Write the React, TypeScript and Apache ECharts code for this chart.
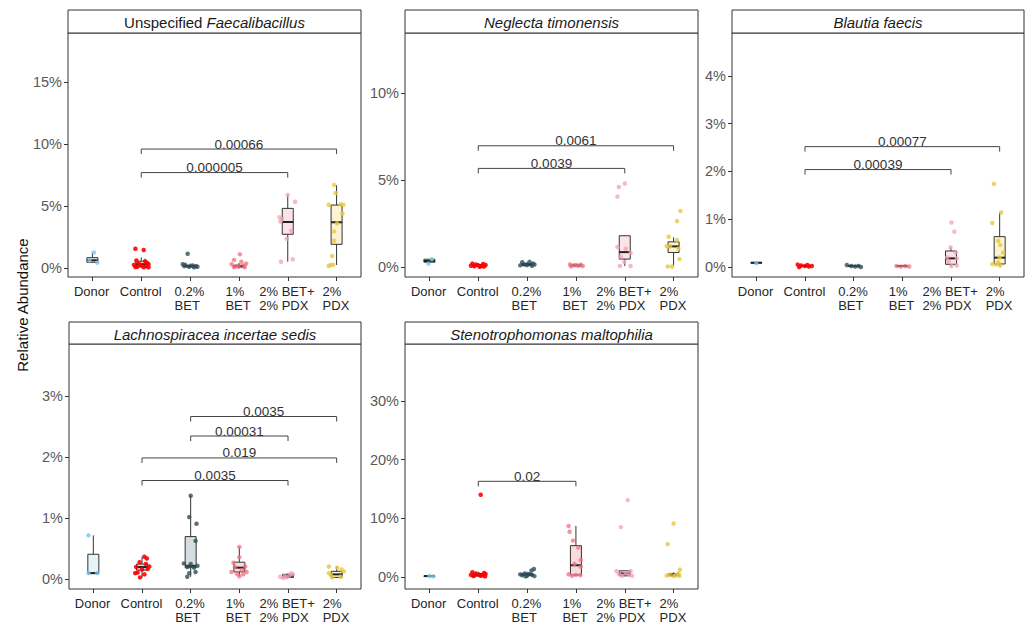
import React, { useEffect, useRef } from 'react';
import * as echarts from 'echarts';

const FONT = '"Liberation Sans", Arial, Helvetica, sans-serif';

const categories = ['Donor', 'Control', '0.2%\nBET', '1%\nBET', '2% BET+\n2% PDX', '2%\nPDX'];
const groupColors = ['#7ec8e8', '#ff0000', '#2f4f5a', '#f07080', '#f4a0b4', '#e8c840'];
const groupOpacity = [0.8, 0.9, 0.8, 0.75, 0.75, 0.8];
const boxFills = ['#e6f3fa', '#f8d4d4', '#d4dde0', '#fadadd', '#fbe3e8', '#fbf3d2'];
const yTitle = 'Relative Abundance';

// ---------- Panel 1: Unspecified Faecalibacillus ----------
const faecTitle = ['Unspecified ', 'Faecalibacillus'];
const faecTicks = [0, 5, 10, 15];
const faecRange = [-0.73, 18.97];
const faecBoxes = [
  [0.43, 0.46, 0.62, 0.83, 1.25],
  [0.02, 0.1, 0.3, 0.55, 0.85],
  [0.02, 0.08, 0.15, 0.22, 0.35],
  [0.02, 0.07, 0.15, 0.22, 0.4],
  [0.51, 2.72, 3.71, 4.81, 5.9],
  [0.24, 1.91, 3.69, 5.08, 6.69],
];
const faecPoints = [
  [[0.03, 1.25], [0.1, 0.43], [-0.06, 0.6]],
  [[-0.12, 1.55], [0.05, 1.45], [-0.1, 0.6], [0.08, 0.55], [0.12, 0.4], [-0.05, 0.35], [0.15, 0.3], [-0.15, 0.25], [0.0, 0.2], [0.1, 0.15], [-0.08, 0.1], [0.05, 0.05], [-0.12, 0.08], [0.15, 0.05]],
  [[-0.05, 1.15], [-0.15, 0.3], [-0.1, 0.25], [0.05, 0.2], [0.12, 0.15], [-0.02, 0.1], [0.15, 0.1], [0.08, 0.05], [-0.12, 0.15]],
  [[0.02, 1.1], [-0.1, 0.65], [0.05, 0.5], [0.15, 0.35], [-0.15, 0.3], [0.1, 0.2], [-0.05, 0.15], [0.0, 0.1], [0.12, 0.05], [-0.1, 0.05]],
  [[0, 5.9], [0.15, 5.35], [-0.17, 4.1], [-0.12, 3.95], [-0.15, 3.75], [0.07, 3.0], [-0.02, 2.35], [-0.14, 0.5], [0.1, 0.7]],
  [[-0.05, 6.7], [-0.02, 6.05], [-0.16, 5.1], [0.08, 5.15], [0.14, 5.1], [0.12, 4.4], [0.01, 3.6], [-0.05, 2.95], [-0.05, 2.2], [-0.09, 0.97], [-0.12, 0.24], [-0.07, 0.25], [-0.16, 0.16]],
];
const faecBrackets = [
  [1, 4, 7.7, '0.000005'],
  [1, 5, 9.6, '0.00066'],
];

// ---------- Panel 2: Neglecta timonensis ----------
const neglTitle = ['', 'Neglecta timonensis'];
const neglTicks = [0, 5, 10];
const neglRange = [-0.57, 13.45];
const neglBoxes = [
  [0.25, 0.28, 0.35, 0.45, 0.47],
  [0.0, 0.05, 0.1, 0.15, 0.22],
  [0.05, 0.1, 0.15, 0.2, 0.3],
  [0.02, 0.06, 0.1, 0.14, 0.18],
  [0.06, 0.46, 0.86, 1.8, 1.8],
  [0.06, 0.84, 1.19, 1.45, 1.71],
];
const neglPoints = [
  [[-0.02, 0.2], [0.05, 0.45]],
  [[-0.12, 0.2], [0.1, 0.18], [-0.05, 0.15], [0.15, 0.12], [0.0, 0.1], [-0.15, 0.08], [0.08, 0.06], [-0.08, 0.05], [0.12, 0.03], [0.03, 0.02]],
  [[-0.1, 0.28], [0.05, 0.3], [0.12, 0.2], [-0.05, 0.15], [0.0, 0.12], [-0.14, 0.1], [0.1, 0.08], [0.15, 0.15]],
  [[-0.12, 0.15], [0.1, 0.14], [-0.05, 0.1], [0.05, 0.08], [0.14, 0.06], [-0.1, 0.05], [0.0, 0.12]],
  [[-0.12, 4.6], [0, 4.8], [-0.15, 4.05], [-0.15, 1.15], [0.02, 1.05], [0.12, 0.82], [-0.08, 0.6], [-0.01, 0.3], [-0.1, 0.06], [0.12, 0.06]],
  [[0.14, 3.22], [0.07, 2.64], [-0.1, 1.74], [0.07, 1.55], [-0.07, 1.2], [0.1, 1.07], [-0.14, 1.2], [0.12, 0.46], [-0.12, 0.03], [-0.03, 0.03]],
];
const neglBrackets = [
  [1, 4, 5.67, '0.0039'],
  [1, 5, 6.97, '0.0061'],
];

// ---------- Panel 3: Blautia faecis ----------
const blauTitle = ['', 'Blautia faecis'];
const blauTicks = [0, 1, 2, 3, 4];
const blauRange = [-0.21, 4.9];
const blauBoxes = [
  [0.07, 0.08, 0.09, 0.09, 0.1],
  [0.0, 0.01, 0.02, 0.03, 0.05],
  [0.0, 0.01, 0.02, 0.03, 0.04],
  [0.0, 0.01, 0.02, 0.02, 0.03],
  [0.01, 0.056, 0.18, 0.335, 0.41],
  [0.03, 0.063, 0.195, 0.635, 1.14],
];
const blauPoints = [
  [[0.0, 0.08]],
  [[-0.15, 0.05], [-0.08, 0.03], [0.0, 0.02], [0.08, 0.01], [0.14, 0.02], [-0.12, 0.0], [0.05, 0.04]],
  [[-0.14, 0.04], [-0.05, 0.02], [0.03, 0.01], [0.1, 0.02], [0.15, 0.0]],
  [[-0.12, 0.02], [-0.03, 0.01], [0.06, 0.02], [0.14, 0.01]],
  [[0.01, 0.93], [0.07, 0.74], [-0.01, 0.41], [0.1, 0.3], [0.12, 0.18], [-0.05, 0.11], [0.01, 0.02], [0.12, 0.03], [-0.08, 0.2]],
  [[-0.12, 1.74], [0.03, 1.14], [-0.15, 0.92], [-0.03, 0.55], [0.01, 0.46], [0.07, 0.3], [0, 0.2], [-0.15, 0.06], [-0.07, 0.05], [0.01, 0.03], [-0.03, 0.1]],
];
const blauBrackets = [
  [1, 4, 2.04, '0.00039'],
  [1, 5, 2.52, '0.00077'],
];

// ---------- Panel 4: Lachnospiracea incertae sedis ----------
const lachTitle = ['', 'Lachnospiracea incertae sedis'];
const lachTicks = [0, 1, 2, 3];
const lachRange = [-0.16, 3.86];
const lachBoxes = [
  [0.1, 0.1, 0.1, 0.41, 0.72],
  [0.03, 0.15, 0.2, 0.25, 0.37],
  [0.04, 0.19, 0.22, 0.7, 1.37],
  [0.05, 0.12, 0.19, 0.28, 0.53],
  [0.02, 0.03, 0.05, 0.08, 0.1],
  [0.02, 0.03, 0.08, 0.13, 0.21],
];
const lachPoints = [
  [[-0.1, 0.72], [0.08, 0.1], [-0.1, 0.1]],
  [[0.05, 0.37], [0.1, 0.34], [-0.05, 0.28], [0.15, 0.21], [-0.12, 0.2], [0, 0.16], [0.12, 0.17], [-0.09, 0.11], [0.05, 0.08], [-0.04, 0.03], [-0.14, 0.1], [0.08, 0.25]],
  [[0, 1.37], [-0.03, 1.02], [0.12, 0.91], [0.1, 0.63], [-0.14, 0.26], [0, 0.25], [0.14, 0.22], [-0.07, 0.2], [0.07, 0.19], [-0.03, 0.1], [-0.07, 0.04], [0.1, 0.12]],
  [[0, 0.53], [0, 0.36], [-0.12, 0.27], [0.12, 0.21], [-0.09, 0.2], [0.05, 0.15], [-0.16, 0.12], [-0.05, 0.09], [0.08, 0.08], [0, 0.05], [0.15, 0.12]],
  [[-0.16, 0.04], [-0.1, 0.02], [0.07, 0.1], [0.1, 0.08], [-0.03, 0.03], [-0.07, 0.05], [0.03, 0.06]],
  [[-0.16, 0.21], [0.1, 0.16], [0.15, 0.13], [-0.12, 0.07], [-0.09, 0.03], [0.08, 0.04], [-0.16, 0.1], [0.01, 0.19]],
];
const lachBrackets = [
  [1, 4, 1.62, '0.0035'],
  [1, 5, 1.99, '0.019'],
  [2, 4, 2.35, '0.00031'],
  [2, 5, 2.67, '0.0035'],
];

// ---------- Panel 5: Stenotrophomonas maltophilia ----------
const stenTitle = ['', 'Stenotrophomonas maltophilia'];
const stenTicks = [0, 10, 20, 30];
const stenRange = [-2.05, 39.7];
const stenBoxes = [
  [0.1, 0.12, 0.15, 0.18, 0.2],
  [0.05, 0.15, 0.35, 0.6, 0.9],
  [0.1, 0.25, 0.4, 0.6, 0.9],
  [0.2, 0.34, 2.0, 5.34, 8.7],
  [0.1, 0.2, 0.6, 1.05, 1.1],
  [0.1, 0.2, 0.35, 0.55, 0.8],
];
const stenPoints = [
  [[0.0, 0.15], [0.08, 0.1]],
  [[0.05, 14.0], [-0.12, 0.8], [0.12, 0.7], [-0.05, 0.6], [0.15, 0.5], [0.02, 0.4], [-0.15, 0.35], [0.1, 0.3], [-0.08, 0.25], [0.05, 0.2], [-0.1, 0.15], [0.14, 0.1]],
  [[0.14, 1.36], [0.09, 1.1], [-0.14, 0.45], [-0.05, 0.6], [0.05, 0.5], [0.1, 0.35], [-0.1, 0.3], [0, 0.2], [0.15, 0.15], [-0.03, 0.1]],
  [[-0.15, 8.7], [-0.13, 7.7], [-0.06, 6.2], [0.05, 5.0], [0.1, 2.9], [0.1, 1.75], [-0.03, 2.2], [-0.15, 0.45], [0, 0.35], [0.09, 0.3], [-0.08, 0.2]],
  [[0.06, 13.1], [-0.08, 8.5], [-0.17, 1.0], [0.12, 1.0], [0.02, 0.7], [-0.12, 0.5], [0.09, 0.35], [-0.05, 0.2], [0.15, 0.2]],
  [[0, 9.1], [-0.12, 5.6], [0.13, 1.25], [0.1, 0.6], [-0.08, 0.4], [0.05, 0.3], [-0.14, 0.25], [0.12, 0.2], [0, 0.15]],
];
const stenBrackets = [
  [1, 3, 16.3, '0.02'],
];

// ---------- layout (positions only) ----------
const panels = [
  { title: faecTitle, ticks: faecTicks, range: faecRange, boxes: faecBoxes, points: faecPoints, brackets: faecBrackets, left: 68, top: 33, width: 293, height: 244, stripTop: 10 },
  { title: neglTitle, ticks: neglTicks, range: neglRange, boxes: neglBoxes, points: neglPoints, brackets: neglBrackets, left: 405, top: 33, width: 293, height: 244, stripTop: 10 },
  { title: blauTitle, ticks: blauTicks, range: blauRange, boxes: blauBoxes, points: blauPoints, brackets: blauBrackets, left: 732, top: 33, width: 292, height: 244, stripTop: 10 },
  { title: lachTitle, ticks: lachTicks, range: lachRange, boxes: lachBoxes, points: lachPoints, brackets: lachBrackets, left: 69, top: 344, width: 292, height: 245, stripTop: 322 },
  { title: stenTitle, ticks: stenTicks, range: stenRange, boxes: stenBoxes, points: stenPoints, brackets: stenBrackets, left: 405, top: 344, width: 293, height: 245, stripTop: 322 },
];

const CAT_FONT_SIZE = 13;

function measure(text: string): number {
  try {
    const ctx = document.createElement('canvas').getContext('2d');
    if (ctx) {
      ctx.font = CAT_FONT_SIZE + 'px "Liberation Sans", Arial, sans-serif';
      return ctx.measureText(text).width;
    }
  } catch (e) { /* ignore */ }
  return text.length * 7;
}

function buildCatRich() {
  const rich: any = {};
  categories.forEach((c, i) => {
    const w = Math.max(...c.split('\n').map(measure));
    rich['c' + i] = { width: Math.ceil(w) + 1, align: 'left', fontSize: CAT_FONT_SIZE, lineHeight: 14, color: '#262626', fontFamily: FONT };
  });
  return rich;
}

function buildOption() {
  const grid: any[] = [];
  const xAxis: any[] = [];
  const yAxis: any[] = [];
  const series: any[] = [];
  const graphic: any[] = [];
  const catRich = buildCatRich();

  panels.forEach((p, i) => {
    grid.push({
      left: p.left, top: p.top, width: p.width, height: p.height,
      show: true, borderColor: '#333', borderWidth: 1, backgroundColor: 'transparent',
      containLabel: false,
    });
    xAxis.push({
      type: 'category', gridIndex: i, data: categories, boundaryGap: true,
      axisLine: { show: false, onZero: false },
      axisTick: { show: true, alignWithLabel: true, length: 4, lineStyle: { color: '#333' } },
      axisLabel: {
        interval: 0, fontSize: CAT_FONT_SIZE, color: '#262626', margin: 7, lineHeight: 14, fontFamily: FONT,
        formatter: (value: string, idx: number) => value.split('\n').map((l) => '{c' + idx + '|' + l + '}').join('\n'),
        rich: catRich,
      },
      splitLine: { show: false },
    });
    xAxis.push({
      type: 'value', gridIndex: i, min: -0.5, max: 5.5, show: false,
      axisLine: { onZero: false }, splitLine: { show: false },
    });
    yAxis.push({
      type: 'value', gridIndex: i, min: p.range[0], max: p.range[1],
      axisLine: { show: false, onZero: false },
      axisTick: { show: true, length: 4, customValues: p.ticks, lineStyle: { color: '#333' } },
      axisLabel: { customValues: p.ticks, formatter: '{value}%', fontSize: 14.5, color: '#595959', margin: 6, fontFamily: FONT },
      splitLine: { show: false },
    });

    // boxes
    series.push({
      type: 'custom', xAxisIndex: 2 * i + 1, yAxisIndex: i,
      data: p.boxes.map((b, g) => [g, b[0], b[1], b[2], b[3], b[4]]),
      encode: { x: 0, y: [1, 2, 3, 4, 5] },
      z: 2,
      renderItem: (params: any, api: any) => {
        const x = api.value(0);
        const g = params.dataIndex;
        const lo = api.coord([x, api.value(1)]);
        const q1 = api.coord([x, api.value(2)]);
        const med = api.coord([x, api.value(3)]);
        const q3 = api.coord([x, api.value(4)]);
        const hi = api.coord([x, api.value(5)]);
        const hw = 5.5;
        return {
          type: 'group',
          children: [
            { type: 'line', shape: { x1: lo[0], y1: lo[1], x2: q1[0], y2: q1[1] }, style: { stroke: '#333', lineWidth: 1 } },
            { type: 'line', shape: { x1: q3[0], y1: q3[1], x2: hi[0], y2: hi[1] }, style: { stroke: '#333', lineWidth: 1 } },
            { type: 'rect', shape: { x: q3[0] - hw, y: q3[1], width: 2 * hw, height: Math.max(q1[1] - q3[1], 0.5) }, style: { fill: boxFills[g], stroke: '#333', lineWidth: 1 } },
            { type: 'line', shape: { x1: med[0] - hw, y1: med[1], x2: med[0] + hw, y2: med[1] }, style: { stroke: '#222', lineWidth: 2 } },
          ],
        };
      },
    });

    // jittered points
    const pts: any[] = [];
    p.points.forEach((grp, g) => {
      grp.forEach((pt) => {
        pts.push({ value: [g + pt[0], pt[1]], itemStyle: { color: groupColors[g], opacity: groupOpacity[g] } });
      });
    });
    series.push({
      type: 'scatter', xAxisIndex: 2 * i + 1, yAxisIndex: i, data: pts,
      symbol: 'circle', symbolSize: 4.5, z: 3, silent: true,
    });

    // significance brackets
    const br = p.brackets;
    series.push({
      type: 'custom', xAxisIndex: 2 * i + 1, yAxisIndex: i, z: 4,
      data: br.map((b) => [b[0], b[1], b[2]]),
      encode: { x: [0, 1], y: 2 },
      renderItem: (params: any, api: any) => {
        const a = api.coord([api.value(0), api.value(2)]);
        const b = api.coord([api.value(1), api.value(2)]);
        const tip = 5;
        return {
          type: 'group',
          children: [
            { type: 'polyline', shape: { points: [[a[0], a[1] + tip], [a[0], a[1]], [b[0], b[1]], [b[0], b[1] + tip]] }, style: { stroke: '#444', lineWidth: 1, fill: 'none' } },
            { type: 'text', x: (a[0] + b[0]) / 2, y: a[1] + 2, style: { text: String(br[params.dataIndex][3]), fontSize: 13.5, fontFamily: FONT, fill: '#333', align: 'center', verticalAlign: 'bottom' } },
          ],
        };
      },
    });

    // strip
    const stripH = p.top - p.stripTop;
    graphic.push({
      type: 'rect', shape: { x: p.left, y: p.stripTop, width: p.width, height: stripH },
      style: { fill: '#ffffff', stroke: '#333', lineWidth: 1 }, z: 10,
    });
    graphic.push({
      type: 'text', x: p.left + p.width / 2, y: p.stripTop + stripH / 2 + 1, z: 11,
      style: {
        text: (p.title[0] ? '{r|' + p.title[0] + '}' : '') + '{i|' + p.title[1] + '}',
        rich: {
          r: { fontSize: 15, fontFamily: FONT, fill: '#1a1a1a' },
          i: { fontSize: 15, fontFamily: FONT, fill: '#1a1a1a', fontStyle: 'italic' },
        },
        align: 'center', verticalAlign: 'middle',
      },
    });
  });

  graphic.push({
    type: 'text', x: 22, y: 305, rotation: Math.PI / 2, z: 11,
    style: { text: yTitle, fontSize: 15, fontFamily: FONT, fill: '#111', align: 'center', verticalAlign: 'middle' },
  });

  return { animation: false, backgroundColor: '#ffffff', grid, xAxis, yAxis, series, graphic };
}

export default function App() {
  const ref = useRef<HTMLDivElement>(null);
  useEffect(() => {
    if (!ref.current) return;
    const chart = echarts.init(ref.current, undefined, { renderer: 'svg' });
    chart.setOption(buildOption() as any);
    return () => chart.dispose();
  }, []);
  return <div ref={ref} style={{ position: 'absolute', left: 0, top: 0, width: 1035, height: 627 }} />;
}
